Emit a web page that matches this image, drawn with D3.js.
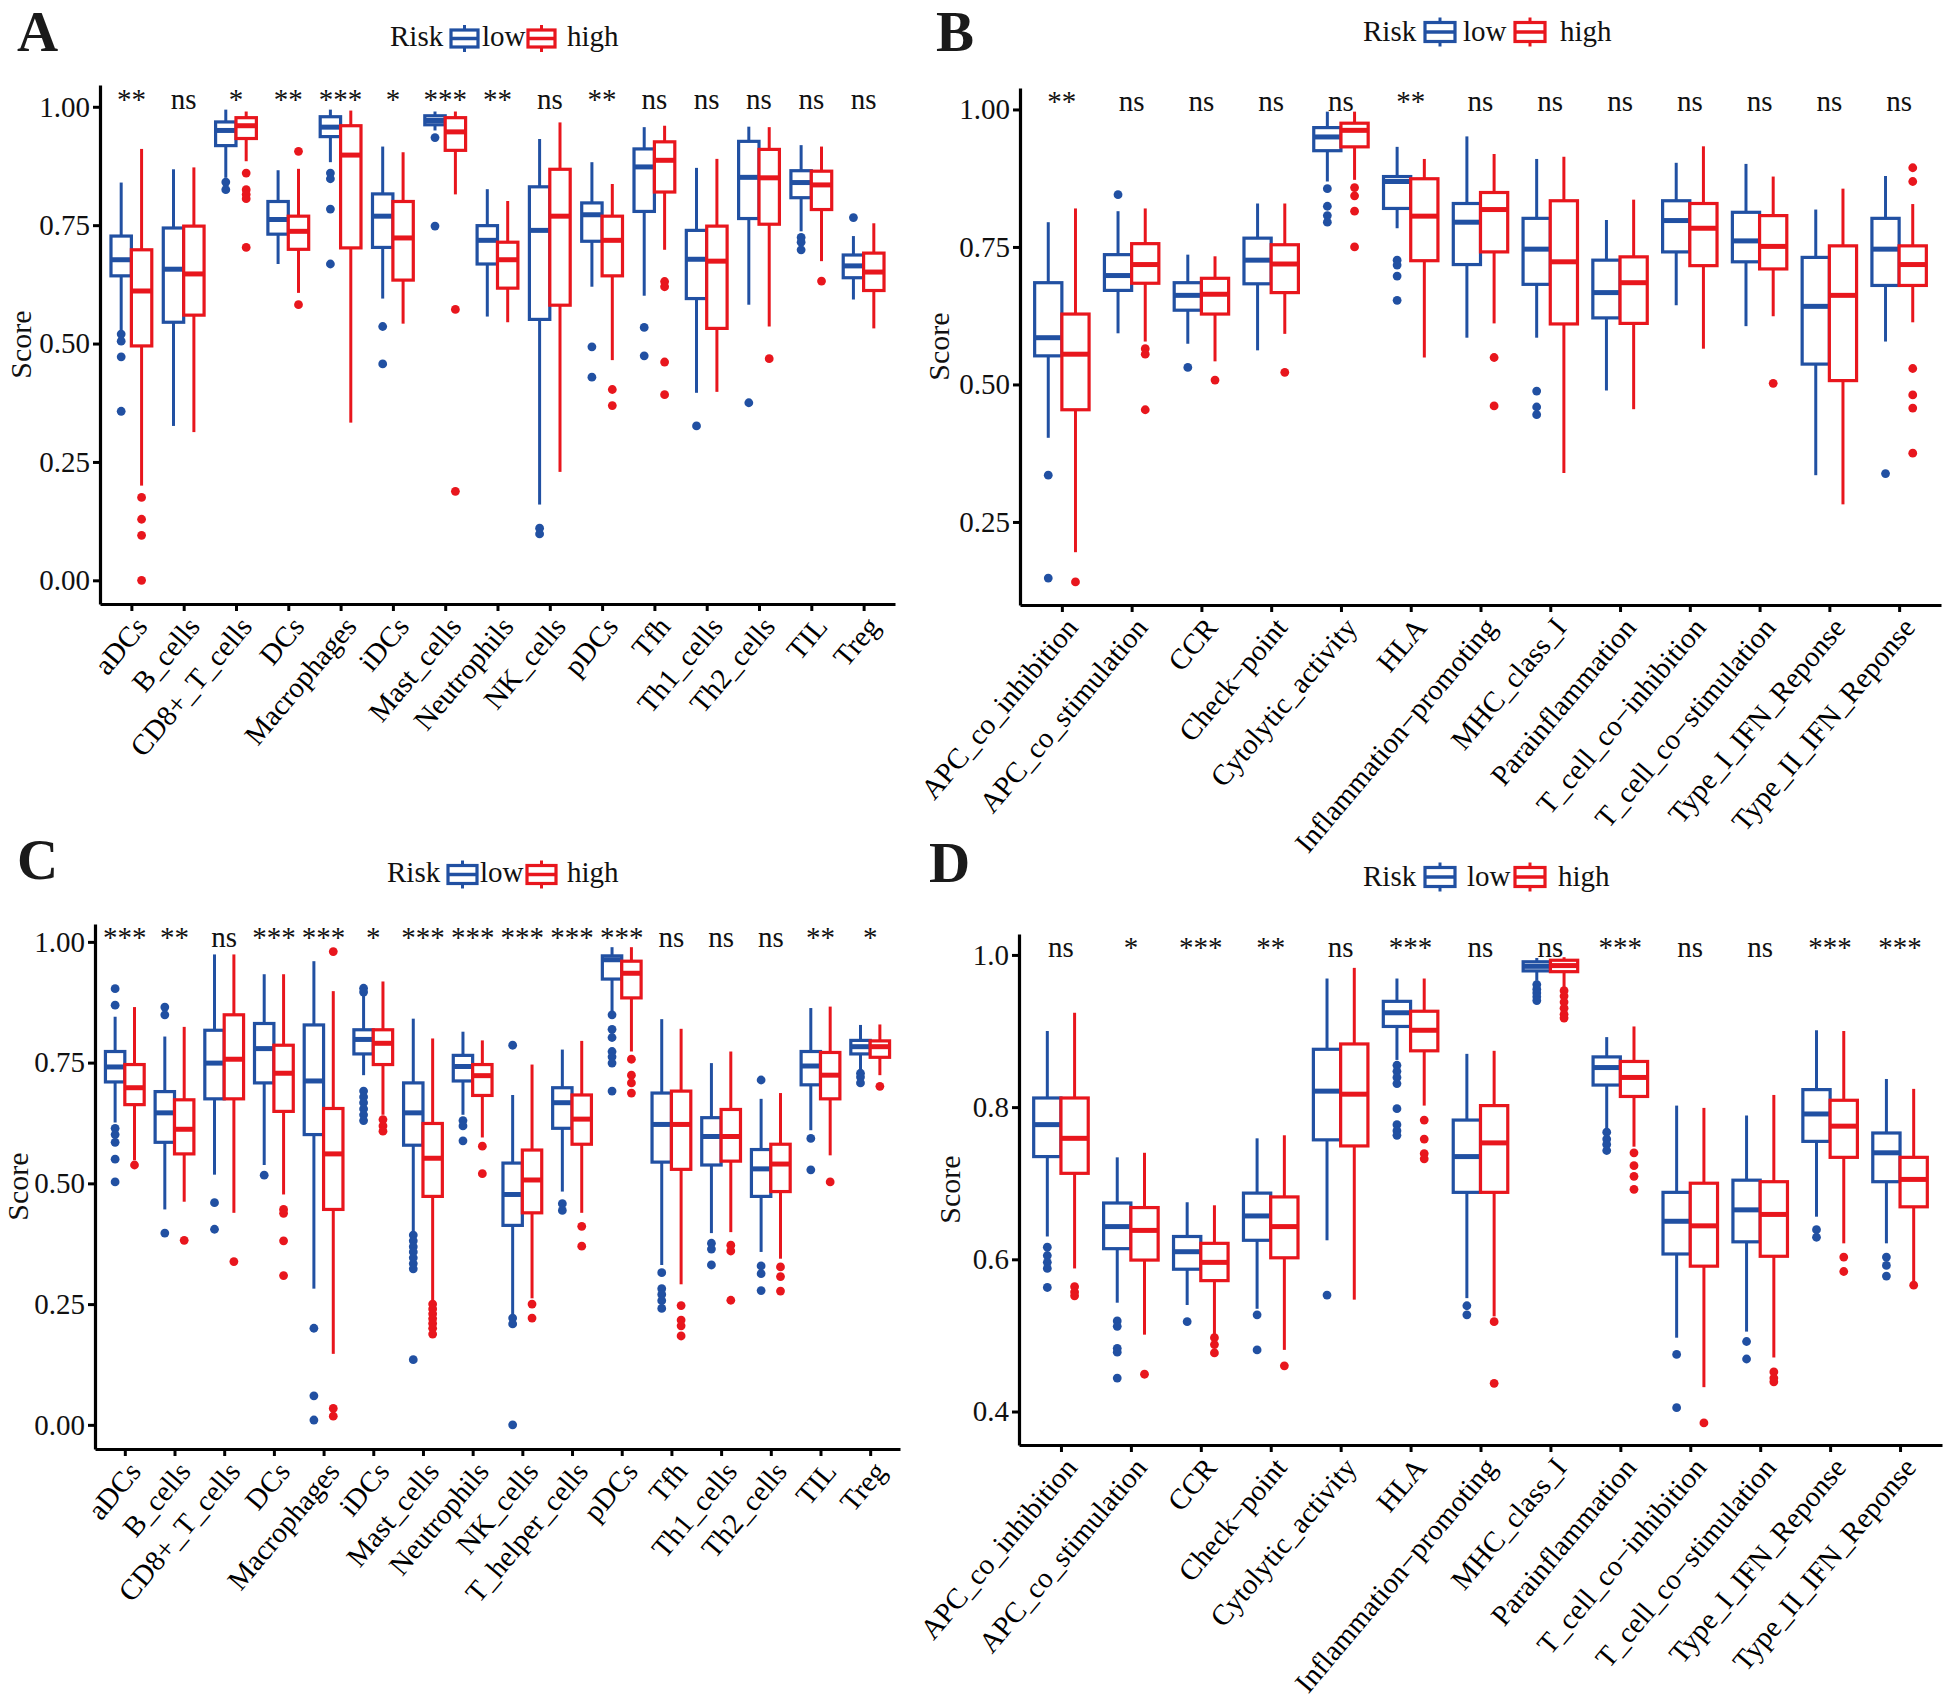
<!DOCTYPE html>
<html><head><meta charset="utf-8">
<script src="https://cdn.jsdelivr.net/npm/d3@7"></script>
<style>body{margin:0;background:#fff}</style>
</head><body>
<svg id="fig" width="1946" height="1700" xmlns="http://www.w3.org/2000/svg"></svg>
<script>
// ---------------- DATA ----------------
// stats per box: [lower whisker, Q1, median, Q3, upper whisker]
const A_categories = ["aDCs","B_cells","CD8+_T_cells","DCs","Macrophages","iDCs","Mast_cells","Neutrophils","NK_cells","pDCs","Tfh","Th1_cells","Th2_cells","TIL","Treg"];
const A_sig = ["**","ns","*","**","***","*","***","**","ns","**","ns","ns","ns","ns","ns"];
const A_ticks = [0, 0.25, 0.5, 0.75, 1.0];
const A_low = [
 [0.524,0.643,0.677,0.727,0.840],[0.326,0.545,0.657,0.744,0.868],[0.850,0.918,0.950,0.968,0.994],
 [0.668,0.731,0.762,0.800,0.866],[0.883,0.937,0.957,0.979,0.994],[0.595,0.703,0.769,0.816,0.916],
 [0.950,0.962,0.971,0.981,0.990],[0.557,0.668,0.718,0.749,0.826],[0.160,0.551,0.739,0.831,0.932],
 [0.620,0.716,0.772,0.797,0.883],[0.601,0.779,0.873,0.911,0.957],[0.396,0.595,0.678,0.739,0.871],
 [0.582,0.764,0.851,0.927,0.958],[0.737,0.808,0.840,0.865,0.919],[0.593,0.639,0.664,0.687,0.727]];
const A_high = [
 [0.200,0.495,0.611,0.698,0.911],[0.313,0.560,0.647,0.748,0.872],[0.885,0.933,0.960,0.977,0.990],
 [0.607,0.699,0.737,0.769,0.869],[0.333,0.702,0.898,0.960,0.992],[0.542,0.634,0.723,0.800,0.904],
 [0.815,0.908,0.947,0.977,0.990],[0.545,0.617,0.677,0.714,0.801],[0.229,0.581,0.769,0.868,0.967],
 [0.465,0.643,0.718,0.769,0.837],[0.698,0.820,0.887,0.926,0.960],[0.398,0.532,0.674,0.748,0.890],
 [0.536,0.752,0.850,0.910,0.957],[0.674,0.783,0.835,0.864,0.916],[0.532,0.612,0.651,0.691,0.754]];
const A_low_out = [[0.520,0.505,0.472,0.357],[],[0.841,0.825],[],[0.860,0.848,0.784,0.668],[0.536,0.457],[0.935,0.748],[],[0.110,0.098],[0.493,0.429],[0.534,0.474],[0.326],[0.375],[0.724,0.714,0.698],[0.766]];
const A_high_out = [[0.175,0.129,0.095,0.0],[],[0.860,0.825,0.815,0.806,0.703],[0.906,0.582],[],[],[0.572,0.188],[],[],[0.403,0.369],[0.631,0.620,0.461,0.392],[],[0.468],[0.632],[]];

const B_categories = ["APC_co_inhibition","APC_co_stimulation","CCR","Check\u2212point","Cytolytic_activity","HLA","Inflammation\u2212promoting","MHC_class_I","Parainflammation","T_cell_co\u2212inhibition","T_cell_co\u2212stimulation","Type_I_IFN_Reponse","Type_II_IFN_Reponse"];
const B_sig = ["**","ns","ns","ns","ns","**","ns","ns","ns","ns","ns","ns","ns"];
const B_ticks = [0.25, 0.5, 0.75, 1.0];
const B_low = [
 [0.403,0.552,0.585,0.685,0.795],[0.593,0.671,0.698,0.736,0.815],[0.574,0.635,0.662,0.685,0.736],
 [0.562,0.683,0.726,0.766,0.829],[0.869,0.925,0.950,0.967,0.996],[0.784,0.820,0.869,0.878,0.932],
 [0.585,0.718,0.795,0.829,0.951],[0.585,0.682,0.746,0.802,0.910],[0.489,0.621,0.667,0.726,0.799],
 [0.644,0.741,0.798,0.834,0.903],[0.606,0.723,0.761,0.813,0.901],[0.335,0.537,0.642,0.731,0.818],
 [0.578,0.680,0.746,0.802,0.879]];
const B_high = [
 [0.195,0.454,0.555,0.628,0.820],[0.578,0.684,0.718,0.756,0.820],[0.542,0.628,0.664,0.693,0.733],
 [0.592,0.667,0.719,0.754,0.829],[0.872,0.932,0.962,0.975,0.996],[0.549,0.725,0.806,0.874,0.910],
 [0.611,0.741,0.818,0.849,0.919],[0.339,0.610,0.723,0.834,0.914],[0.455,0.611,0.685,0.732,0.836],
 [0.565,0.716,0.784,0.829,0.933],[0.624,0.710,0.751,0.807,0.878],[0.282,0.507,0.662,0.752,0.856],
 [0.613,0.680,0.718,0.752,0.828]];
const B_low_out = [[0.335,0.148],[0.845],[0.531],[],[0.856,0.824,0.807,0.795],[0.726,0.717,0.697,0.653],[],[0.488,0.459,0.445],[],[],[],[],[0.338]];
const B_high_out = [[0.141],[0.565,0.555,0.454],[0.508],[0.522],[0.858,0.843,0.815,0.750],[],[0.549,0.461],[],[],[],[0.502],[],[0.894,0.869,0.529,0.481,0.457,0.375]];

const C_categories = ["aDCs","B_cells","CD8+_T_cells","DCs","Macrophages","iDCs","Mast_cells","Neutrophils","NK_cells","T_helper_cells","pDCs","Tfh","Th1_cells","Th2_cells","TIL","Treg"];
const C_sig = ["***","**","ns","***","***","*","***","***","***","***","***","ns","ns","ns","**","*"];
const C_ticks = [0, 0.25, 0.5, 0.75, 1.0];
const C_low = [
 [0.626,0.710,0.741,0.773,0.845],[0.446,0.585,0.646,0.690,0.804],[0.518,0.675,0.749,0.817,0.974],
 [0.538,0.708,0.779,0.831,0.933],[0.282,0.601,0.712,0.828,0.960],[0.724,0.768,0.798,0.818,0.908],
 [0.397,0.579,0.646,0.708,0.841],[0.642,0.712,0.742,0.765,0.814],[0.229,0.413,0.477,0.542,0.683],
 [0.483,0.614,0.667,0.698,0.777],[0.855,0.923,0.963,0.971,0.989],[0.331,0.544,0.622,0.687,0.840],
 [0.397,0.538,0.597,0.636,0.749],[0.358,0.473,0.530,0.570,0.675],[0.610,0.704,0.743,0.773,0.863],
 [0.732,0.768,0.783,0.796,0.828]];
const C_high = [
 [0.548,0.663,0.698,0.746,0.865],[0.462,0.561,0.612,0.673,0.824],[0.439,0.675,0.757,0.849,0.974],
 [0.477,0.649,0.728,0.786,0.933],[0.147,0.446,0.561,0.655,0.898],[0.642,0.746,0.790,0.818,0.918],
 [0.254,0.473,0.552,0.624,0.800],[0.595,0.682,0.723,0.746,0.796],[0.262,0.439,0.507,0.569,0.746],
 [0.439,0.581,0.633,0.683,0.795],[0.773,0.884,0.935,0.960,0.989],[0.291,0.529,0.622,0.691,0.820],
 [0.399,0.546,0.597,0.653,0.773],[0.344,0.483,0.540,0.581,0.687],[0.558,0.675,0.724,0.771,0.866],
 [0.724,0.761,0.783,0.795,0.829]];
const C_low_out = [
 [0.903,0.869,0.614,0.601,0.585,0.550,0.503],[0.865,0.849,0.397],[0.460,0.405],[0.517],[0.200,0.060,0.010],
 [0.904,0.896,0.691,0.679,0.667,0.654,0.642,0.630],[0.393,0.381,0.369,0.358,0.346,0.334,0.323,0.135],
 [0.630,0.619,0.588],[0.786,0.221,0.209,0.0],[0.458,0.444],[0.849,0.819,0.802,0.773,0.762,0.749,0.691],
 [0.315,0.282,0.270,0.257,0.241],[0.376,0.364,0.331],[0.714,0.329,0.313,0.278],[0.593,0.528],[0.728,0.720,0.708]];
const C_high_out = [
 [0.538],[0.382],[0.338],[0.446,0.438,0.381,0.309],[0.980,0.034,0.018],[0.632,0.619,0.608],
 [0.250,0.240,0.230,0.220,0.210,0.200,0.188],[0.577,0.520],[0.250,0.221],[0.411,0.370],
 [0.757,0.724,0.708,0.687],[0.247,0.217,0.205,0.184],[0.372,0.360,0.258],[0.327,0.307,0.277],[0.503],[0.701]];

const D_categories = B_categories.slice();
const D_sig = ["ns","*","***","**","ns","***","ns","ns","***","ns","ns","***","***"];
const D_ticks = [0.4, 0.6, 0.8, 1.0];
const D_low = [
 [0.630,0.735,0.777,0.812,0.900],[0.543,0.614,0.643,0.674,0.734],[0.540,0.587,0.610,0.630,0.675],
 [0.535,0.625,0.657,0.687,0.759],[0.625,0.757,0.821,0.876,0.969],[0.862,0.906,0.924,0.939,0.969],
 [0.549,0.688,0.735,0.783,0.870],[0.966,0.979,0.985,0.991,0.996],[0.771,0.829,0.852,0.866,0.892],
 [0.497,0.607,0.650,0.688,0.802],[0.505,0.623,0.665,0.704,0.789],[0.656,0.755,0.791,0.823,0.901],
 [0.621,0.702,0.740,0.766,0.837]];
const D_high = [
 [0.588,0.713,0.759,0.812,0.924],[0.501,0.599,0.638,0.668,0.740],[0.501,0.572,0.596,0.621,0.671],
 [0.481,0.602,0.643,0.682,0.763],[0.547,0.749,0.817,0.883,0.983],[0.802,0.874,0.901,0.926,0.969],
 [0.525,0.688,0.753,0.802,0.874],[0.958,0.978,0.986,0.993,0.997],[0.748,0.814,0.839,0.860,0.906],
 [0.432,0.591,0.644,0.700,0.799],[0.471,0.604,0.659,0.702,0.816],[0.621,0.734,0.775,0.809,0.900],
 [0.571,0.669,0.705,0.734,0.824]];
const D_low_out = [
 [0.616,0.605,0.596,0.588,0.563],[0.519,0.512,0.483,0.478,0.444],[0.518],[0.527,0.481],[0.553],
 [0.855,0.847,0.839,0.831,0.798,0.777,0.769,0.763],[0.539,0.527],[0.961,0.955,0.950,0.945,0.940],
 [0.767,0.758,0.751,0.743],[0.475,0.405],[0.492,0.469],[0.639,0.629],[0.603,0.592,0.578]];
const D_high_out = [
 [0.564,0.557,0.552],[0.449],[0.497,0.488,0.477],[0.460],[],[0.783,0.758,0.739,0.732],[0.518,0.437],
 [0.953,0.946,0.938,0.930,0.922,0.917],[0.740,0.723,0.709,0.692],[0.385],[0.452,0.444,0.439],[0.603,0.584],[0.566]];

const groups = ["low","high"];
const groupColors = ["#2150A2","#E8161D"];

// ---------------- LAYOUT ----------------
const FONT = "'Liberation Serif','Times New Roman',serif";
const panels = [
 {letter:"A", cats:A_categories, sig:A_sig, low:A_low, high:A_high, lowOut:A_low_out, highOut:A_high_out, ticks:A_ticks, fmt:".2f",
  x0:100, x1:895, yTop:85, yBot:604, dom:[-0.05,1.046], sigY:109, lx:17, ly:51, scoreX:20,
  leg:{base:46, risk:390, i1:451, low:482, i2:528, high:567, iw:27, ih:17, off:7.5}},
 {letter:"B", cats:B_categories, sig:B_sig, low:B_low, high:B_high, lowOut:B_low_out, highOut:B_high_out, ticks:B_ticks, fmt:".2f",
  x0:1020, x1:1941, yTop:88, yBot:605, dom:[0.099,1.039], sigY:111, lx:936, ly:51, scoreX:938,
  leg:{base:41, risk:1363, i1:1425, low:1463, i2:1515, high:1560, iw:30, ih:19, off:9}},
 {letter:"C", cats:C_categories, sig:C_sig, low:C_low, high:C_high, lowOut:C_low_out, highOut:C_high_out, ticks:C_ticks, fmt:".2f",
  x0:95, x1:900, yTop:924, yBot:1449, dom:[-0.05,1.037], sigY:947, lx:17, ly:879, scoreX:17,
  leg:{base:882, risk:387, i1:448, low:480, i2:527, high:567, iw:29, ih:18, off:7.5}},
 {letter:"D", cats:D_categories, sig:D_sig, low:D_low, high:D_high, lowOut:D_low_out, highOut:D_high_out, ticks:D_ticks, fmt:".1f",
  x0:1019, x1:1942, yTop:934, yBot:1445, dom:[0.356,1.0275], sigY:957, lx:929, ly:882, scoreX:949,
  leg:{base:886, risk:1363, i1:1425, low:1467, i2:1515, high:1558, iw:30, ih:19, off:9}}
];

const svg = d3.select("#fig");
svg.append("rect").attr("width",1946).attr("height",1700).attr("fill","#fff");

panels.forEach(p => {
  const g = svg.append("g");
  const x = d3.scalePoint().domain(p.cats).range([p.x0, p.x1]).padding(0.6);
  const y = d3.scaleLinear().domain(p.dom).range([p.yBot, p.yTop]);
  const step = x.step();
  const bw = step * 0.78 / 2;

  // boxes
  const series = [p.low, p.high];
  const outs = [p.lowOut, p.highOut];
  series.forEach((data, gi) => {
    const col = groupColors[gi];
    const sg = g.append("g");
    p.cats.forEach((c, i) => {
      const s = data[i];
      const bx = x(c) + (gi === 0 ? -bw : 0);
      const cx = bx + bw / 2;
      sg.append("line").attr("x1",cx).attr("x2",cx).attr("y1",y(s[4])).attr("y2",y(s[3]))
        .attr("stroke",col).attr("stroke-width",3);
      sg.append("line").attr("x1",cx).attr("x2",cx).attr("y1",y(s[1])).attr("y2",y(s[0]))
        .attr("stroke",col).attr("stroke-width",3);
      sg.append("rect").attr("x",bx).attr("width",bw).attr("y",y(s[3])).attr("height",Math.max(0.5, y(s[1]) - y(s[3])))
        .attr("fill","#fff").attr("stroke",col).attr("stroke-width",3.2);
      sg.append("line").attr("x1",bx).attr("x2",bx + bw).attr("y1",y(s[2])).attr("y2",y(s[2]))
        .attr("stroke",col).attr("stroke-width",5);
      outs[gi][i].forEach(v => {
        sg.append("circle").attr("cx",cx).attr("cy",y(v)).attr("r",4.4).attr("fill",col);
      });
    });
  });

  // axes
  const yAxis = g.append("g").attr("transform",`translate(${p.x0},0)`)
    .call(d3.axisLeft(y).tickValues(p.ticks).tickFormat(d3.format(p.fmt)).tickSize(7).tickSizeOuter(0).tickPadding(3));
  const xAxis = g.append("g").attr("transform",`translate(0,${p.yBot})`)
    .call(d3.axisBottom(x).tickSize(7).tickSizeOuter(0));
  [yAxis, xAxis].forEach(a => {
    a.attr("font-family", FONT).attr("font-size", null);
    a.select(".domain").attr("stroke","#000").attr("stroke-width",3.2);
    a.selectAll(".tick line").attr("stroke","#000").attr("stroke-width",3);
    a.selectAll(".tick text").attr("fill","#000");
  });
  yAxis.selectAll(".tick text").attr("font-size","29px").attr("fill","#111");
  xAxis.selectAll(".tick text")
    .attr("font-size","29px").attr("fill","#000")
    .attr("text-anchor","end").attr("x",0).attr("y",0).attr("dy","0.72em")
    .attr("transform","translate(1,10) rotate(-50)");

  // significance labels
  g.append("g").selectAll("text").data(p.cats).join("text")
    .attr("x", c => x(c)).attr("y", p.sigY)
    .attr("text-anchor","middle").attr("font-family",FONT).attr("font-size","29px").attr("fill","#111")
    .text((c, i) => p.sig[i]);

  // y label
  const cy = (p.yTop + p.yBot) / 2;
  g.append("text").attr("transform",`translate(${p.scoreX},${cy}) rotate(-90)`)
    .attr("dy","0.35em").attr("text-anchor","middle").attr("font-family",FONT).attr("font-size","30px").attr("fill","#111")
    .text("Score");

  // panel letter
  g.append("text").attr("x",p.lx).attr("y",p.ly).attr("font-family",FONT).attr("font-weight","bold")
    .attr("font-size","57px").attr("fill","#1a1a1a").text(p.letter);

  // legend
  const L = p.leg;
  const lg = g.append("g").attr("font-family",FONT).attr("font-size","29px").attr("fill","#111");
  lg.append("text").attr("x",L.risk).attr("y",L.base).text("Risk");
  [[L.i1, L.low], [L.i2, L.high]].forEach((pos, gi) => {
    const col = groupColors[gi];
    const icy = L.base - L.off;
    const icx = pos[0] + L.iw / 2;
    lg.append("line").attr("x1",icx).attr("x2",icx).attr("y1",icy - L.ih/2 - 5).attr("y2",icy + L.ih/2 + 5)
      .attr("stroke",col).attr("stroke-width",3);
    lg.append("rect").attr("x",pos[0]).attr("y",icy - L.ih/2).attr("width",L.iw).attr("height",L.ih)
      .attr("fill","#fff").attr("stroke",col).attr("stroke-width",3.2);
    lg.append("line").attr("x1",pos[0]).attr("x2",pos[0] + L.iw).attr("y1",icy).attr("y2",icy)
      .attr("stroke",col).attr("stroke-width",3.5);
    lg.append("text").attr("x",pos[1]).attr("y",L.base).text(groups[gi]);
  });
});
</script>
</body></html>
